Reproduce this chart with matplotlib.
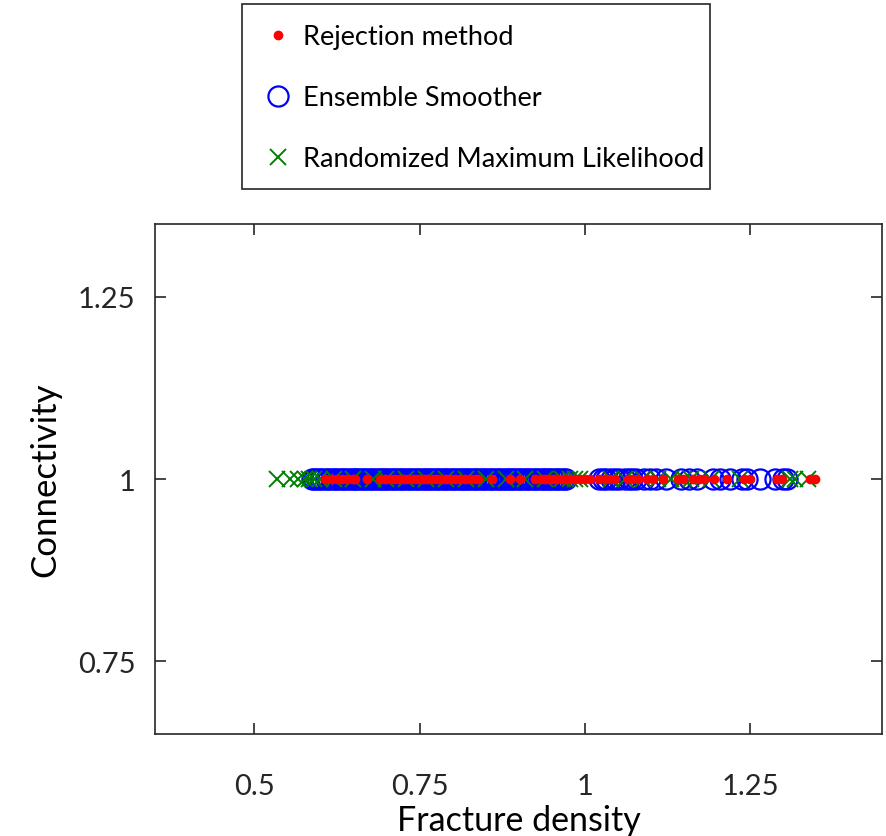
import matplotlib
matplotlib.use("Agg")
import matplotlib.pyplot as plt
from matplotlib.patches import Rectangle

plt.rcParams['font.family'] = ['Lato', 'DejaVu Sans']

# Fracture density samples (connectivity is 1 for every sample)
rejection_x = [0.607, 0.618, 0.625, 0.633, 0.641, 0.650, 0.653, 0.671, 0.690, 0.697,
               0.705, 0.712, 0.719, 0.726, 0.733, 0.741, 0.748, 0.755, 0.762, 0.770,
               0.777, 0.784, 0.790, 0.796, 0.804, 0.811, 0.818, 0.826, 0.834, 0.838,
               0.860, 0.887, 0.902, 0.925, 0.933, 0.940, 0.946, 0.952, 0.958, 0.965,
               0.971, 0.978, 0.985, 0.992, 1.000, 1.008, 1.022, 1.030, 1.038, 1.046,
               1.065, 1.072, 1.080, 1.094, 1.103, 1.118, 1.141, 1.148, 1.163, 1.172,
               1.180, 1.196, 1.215, 1.240, 1.250, 1.290, 1.298, 1.340, 1.348]
smoother_x = [0.587, 0.591, 0.595, 0.599, 0.603, 0.608, 0.612, 0.616, 0.620, 0.624,
              0.628, 0.632, 0.636, 0.641, 0.645, 0.649, 0.652, 0.656, 0.660, 0.664,
              0.668, 0.672, 0.676, 0.680, 0.684, 0.688, 0.692, 0.696, 0.700, 0.704,
              0.708, 0.712, 0.716, 0.720, 0.724, 0.728, 0.732, 0.736, 0.740, 0.744,
              0.748, 0.752, 0.756, 0.760, 0.764, 0.768, 0.772, 0.776, 0.780, 0.784,
              0.788, 0.792, 0.796, 0.800, 0.804, 0.808, 0.812, 0.816, 0.820, 0.824,
              0.828, 0.832, 0.836, 0.840, 0.844, 0.848, 0.852, 0.856, 0.860, 0.864,
              0.868, 0.872, 0.876, 0.880, 0.884, 0.888, 0.892, 0.896, 0.900, 0.904,
              0.908, 0.912, 0.916, 0.920, 0.924, 0.928, 0.932, 0.936, 0.940, 0.944,
              0.948, 0.952, 0.956, 0.960, 0.964, 0.968, 0.972, 1.022, 1.027, 1.032,
              1.040, 1.046, 1.052, 1.060, 1.066, 1.072, 1.078, 1.090, 1.099, 1.108,
              1.122, 1.145, 1.158, 1.170, 1.193, 1.205, 1.220, 1.238, 1.245, 1.265,
              1.288, 1.300, 1.306]
rml_x = [0.535, 0.554, 0.566, 0.577, 0.583, 0.590, 0.600, 0.620, 0.650, 0.680,
         0.700, 0.730, 0.760, 0.790, 0.820, 0.850, 0.880, 0.910, 0.940, 0.965,
         0.978, 0.985, 0.992, 1.040, 1.060, 1.088, 1.110, 1.130, 1.150, 1.160,
         1.190, 1.235, 1.310, 1.318, 1.338]
connectivity = 1.0

x_ticks = [0.5, 0.75, 1, 1.25]
x_tick_labels = ['0.5', '0.75', '1', '1.25']
y_ticks = [0.75, 1, 1.25]
y_tick_labels = ['0.75', '1', '1.25']

fig = plt.figure(figsize=(8.86, 8.37), dpi=100)
ax = fig.add_axes([0.175, 0.122, 0.821, 0.609])

h_es, = ax.plot(smoother_x, [connectivity] * len(smoother_x), 'o', color='blue',
                markerfacecolor='none', markersize=14.5, markeredgewidth=1.6,
                label='Ensemble Smoother')
h_rml, = ax.plot(rml_x, [connectivity] * len(rml_x), 'x', color='green',
                 markersize=12, markeredgewidth=1.4,
                 label='Randomized Maximum Likelihood')
h_rej, = ax.plot(rejection_x, [connectivity] * len(rejection_x), '.', color='red',
                 markersize=12, label='Rejection method')

ax.set_xlim(0.35, 1.45)
ax.set_ylim(0.65, 1.35)
ax.set_xticks(x_ticks)
ax.set_xticklabels(x_tick_labels)
ax.set_yticks(y_ticks)
ax.set_yticklabels(y_tick_labels)
ax.tick_params(direction='in', length=8, width=1.2, colors='#262626',
               top=True, right=True, labelsize=21, pad=28)
ax.tick_params(axis='y', pad=14)
for s in ax.spines.values():
    s.set_linewidth(1.2)
    s.set_color('#262626')
ax.set_xlabel('Fracture density', fontsize=24.5, labelpad=4)
ax.set_ylabel('Connectivity', fontsize=25, labelpad=12)

# legend without its own frame, box drawn separately (MATLAB style spacing)
fig.legend(handles=[h_rej, h_es, h_rml], loc='upper left',
           bbox_to_anchor=(0.292, 0.970), fontsize=19.5, labelspacing=1.33,
           borderpad=0, borderaxespad=0, handlelength=1.4, handletextpad=0.22,
           frameon=False)
fig.patches.append(Rectangle((0.2731, 0.773), 0.5282, 0.221, transform=fig.transFigure,
                             fill=False, edgecolor='#262626', linewidth=1.2))

fig.savefig('out.png', dpi=100)
